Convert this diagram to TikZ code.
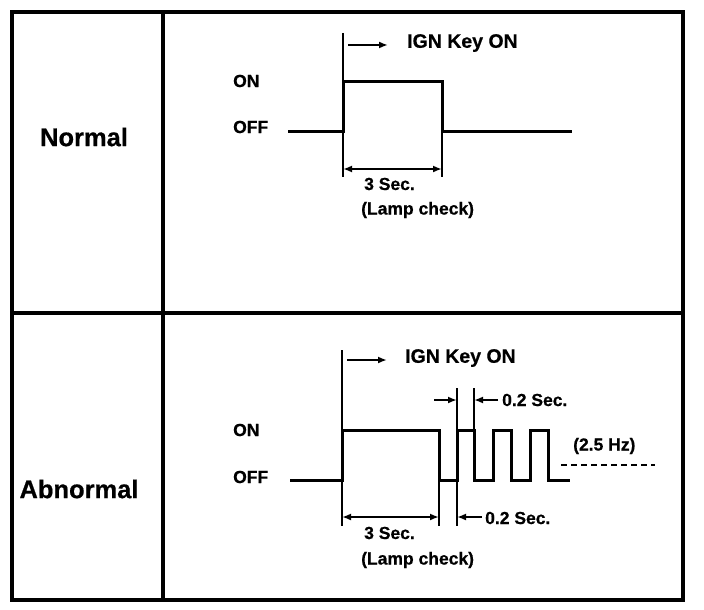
\documentclass[tikz,border=0pt]{standalone}
\usepackage{fontspec}
\setmainfont{Liberation Sans}
\newfontfamily\hv{Liberation Sans Bold}[FakeBold=0.6]
\usetikzlibrary{arrows.meta}
\tikzset{
  frame/.style={line width=3.8pt},
  wave/.style={line width=3pt, line join=miter},
  ext/.style={line width=1.1pt},
  dimarr/.style={line width=1.8pt, {Latex[length=9pt,width=7pt]}-{Latex[length=9pt,width=7pt]}},
  onearr/.style={line width=1.8pt, -{Latex[length=9pt,width=7pt]}},
  big/.style={inner sep=0pt, font=\hv\fontsize{25.5}{30}\selectfont},
  lbl/.style={inner sep=0pt, anchor=west, font=\hv\fontsize{17.5}{20}\selectfont},
  ign/.style={inner sep=0pt, anchor=west, font=\hv\fontsize{19.5}{22}\selectfont},
}
\begin{document}
\begin{tikzpicture}[x=1pt,y=-1pt]
\useasboundingbox (0,0) rectangle (704,610);
% frame
\draw[frame] (12,12) rectangle (683,600);
\draw[frame] (163,12) -- (163,600);
\draw[frame] (12,313) -- (683,313);
% row labels
\node[big] (normal) at (84,137) {Normal};
\node[big] (abnormal) at (79,489) {Abnormal};

% ===== Normal =====
\node[lbl] (on1) at (233,81) {ON};
\node[lbl] (off1) at (233,127) {OFF};
\coordinate (n0) at (288,131);
\coordinate (n1) at (343,131);
\coordinate (n2) at (343,81);
\coordinate (n3) at (442,81);
\coordinate (n4) at (442,131);
\coordinate (n5) at (572,131);
\draw[wave] (n0) -- (n1) -- (n2) -- (n3) -- (n4) -- (n5);
\coordinate (ntop) at (343,33);
\draw[ext] (ntop) -- (n2);
\coordinate (ia1) at (348,45);
\coordinate (ib1) at (388,45);
\draw[onearr] (ia1) -- (ib1);
\node[ign] (ign1) at (407,43) {IGN Key ON};
\coordinate (nd1) at (343,177);
\coordinate (nd2) at (442,177);
\draw[ext] (n1) -- (nd1);
\draw[ext] (n4) -- (nd2);
\coordinate (na1) at (343,169);
\coordinate (na2) at (442,169);
\draw[dimarr] (na1) -- (na2);
\node[lbl] (sec1) at (364,184) {3 Sec.};
\node[lbl] (lamp1) at (361,210) {(Lamp check)};

% ===== Abnormal =====
\node[lbl] (on2) at (233,430) {ON};
\node[lbl] (off2) at (233,477) {OFF};
\coordinate (a0) at (290,480);
\coordinate (a1) at (342,480);
\coordinate (a2) at (342,430);
\coordinate (a3) at (439,430);
\coordinate (a4) at (439,480);
\coordinate (a5) at (457,480);
\coordinate (a6) at (457,430);
\coordinate (a7) at (474,430);
\coordinate (a8) at (474,480);
\coordinate (a9) at (493,480);
\coordinate (a10) at (493,430);
\coordinate (a11) at (511,430);
\coordinate (a12) at (511,480);
\coordinate (a13) at (530,480);
\coordinate (a14) at (530,430);
\coordinate (a15) at (548,430);
\coordinate (a16) at (548,480);
\coordinate (a17) at (570,480);
\draw[wave] (a0) -- (a1) -- (a2) -- (a3) -- (a4) -- (a5) -- (a6) -- (a7) -- (a8) -- (a9) -- (a10) -- (a11) -- (a12) -- (a13) -- (a14) -- (a15) -- (a16) -- (a17);
\coordinate (atop) at (342,350);
\draw[ext] (atop) -- (a2);
\coordinate (ia2) at (347,360);
\coordinate (ib2) at (387,360);
\draw[onearr] (ia2) -- (ib2);
\node[ign] (ign2) at (405,358) {IGN Key ON};
% upper 0.2 Sec
\coordinate (u1) at (457,388);
\coordinate (u2) at (474,388);
\draw[ext] (u1) -- (a6);
\draw[ext] (u2) -- (a7);
\coordinate (ul) at (434,400);
\coordinate (ulh) at (457,400);
\coordinate (ur) at (498,400);
\coordinate (urh) at (474,400);
\draw[onearr] (ul) -- (ulh);
\draw[onearr] (ur) -- (urh);
\node[lbl] (sec02a) at (502,400) {0.2 Sec.};
% 2.5 Hz
\node[lbl] (hz) at (573,446) {(2.5 Hz)};
\coordinate (dsA) at (561,465);
\coordinate (dsB) at (655,465);
\draw[line width=2pt, dash pattern=on 6pt off 4pt] (dsA) -- (dsB);
% lower dims
\coordinate (l1) at (342,526);
\coordinate (l2) at (439,526);
\coordinate (l3) at (457,526);
\draw[ext] (a1) -- (l1);
\draw[ext] (a4) -- (l2);
\draw[ext] (a5) -- (l3);
\coordinate (la1) at (342,517);
\coordinate (la2) at (439,517);
\draw[dimarr] (la1) -- (la2);
\coordinate (lr) at (482,517);
\coordinate (lrh) at (457,517);
\draw[onearr] (lr) -- (lrh);
\node[lbl] (sec02b) at (485,518) {0.2 Sec.};
\node[lbl] (sec2) at (364,533) {3 Sec.};
\node[lbl] (lamp2) at (361,560) {(Lamp check)};
\end{tikzpicture}
\end{document}
